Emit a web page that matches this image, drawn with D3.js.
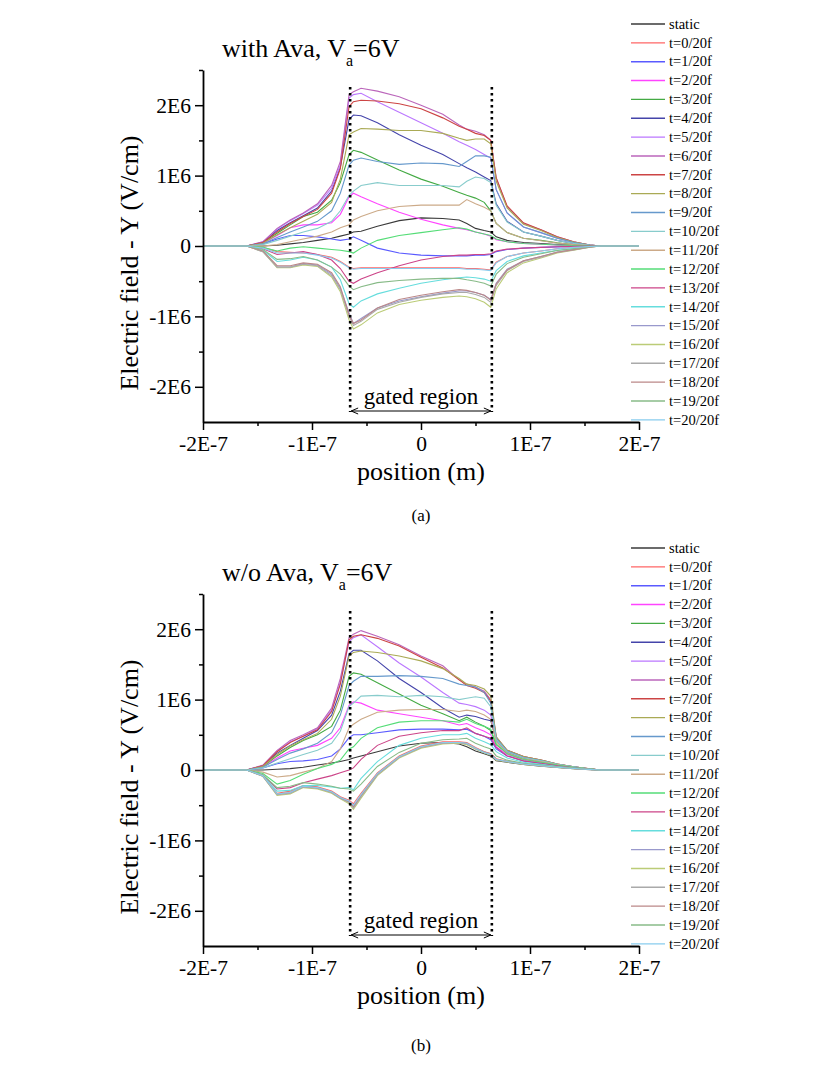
<!DOCTYPE html>
<html lang="en">
<head>
<meta charset="utf-8">
<title>electric field Y</title>
<script type="text/javascript" src="https://cdn.jsdelivr.net/npm/d3@7"></script>
<style>
  body{margin:0;background:#fff;}
  svg{display:block;}
  svg text{font-family:"Liberation Serif","DejaVu Serif",serif;}
</style>
</head>
<body>
<div id="chart"></div>
<script type="text/javascript">

// positions in nm (axis shows them in metres)
var positionsNm = [-200,-160,-145,-132,-120,-108,-95,-82,-74,-66,-62,-55,-40,-20,0,20,35,42,50,58,64,69,79,94,110,125,140,155,165,200]

var seriesNames = ["static","t=0/20f","t=1/20f","t=2/20f","t=3/20f","t=4/20f","t=5/20f","t=6/20f","t=7/20f","t=8/20f","t=9/20f","t=10/20f",
  "t=11/20f","t=12/20f","t=13/20f","t=14/20f","t=15/20f","t=16/20f","t=17/20f","t=18/20f","t=19/20f","t=20/20f"]
var seriesColors = ["#3a3a3a","#ff6666","#5a5aff","#ff44ff","#44aa44","#4444aa","#bb77ff","#bb66bb","#cc4444","#aaaa55","#6699cc","#88cccc",
  "#ccaa88","#55dd77","#cc4488","#66dddd","#9999cc","#bbcc77","#aaaaaa","#bb8888","#88bb88","#88ccee"]

var xTicks = [-200,-100,0,100,200]
var xTickLabels = ["-2E-7","-1E-7","0","1E-7","2E-7"]
var xMinor = [-150,-50,50,150]
var yTicks = [-2,-1,0,1,2]
var yTickLabels = ["-2E6","-1E6","0","1E6","2E6"]
var yMinor = [-1.5,-0.5,0.5,1.5,2.5]
var gateEdges = [-65,65]

// (a) with Ava, field in 1E6 V/cm
var a_static = [0,0,0,0.01,0.03,0.05,0.08,0.11,0.14,0.17,0.2,0.21,0.28,0.36,0.4,0.39,0.37,0.32,0.25,0.22,0.2,0.13,0.08,0.05,0.035,0.02,0.01,0.003,0,0]
var a_t0  = [0,0,-0.02,-0.08,-0.09,-0.1,-0.12,-0.16,-0.22,-0.3,-0.32,-0.31,-0.31,-0.31,-0.31,-0.31,-0.31,-0.32,-0.32,-0.33,-0.34,-0.23,-0.15,-0.1,-0.07,-0.04,-0.02,-0.007,0,0]
var a_t1  = [0,0,0.03,0.1,0.15,0.15,0.13,0.1,0.08,0.1,0.13,0.08,-0.03,-0.1,-0.13,-0.14,-0.14,-0.14,-0.13,-0.13,-0.12,-0.08,-0.05,-0.03,-0.02,-0.012,-0.006,-0.002,0,0]
var a_t2  = [0,0,0.04,0.15,0.26,0.3,0.3,0.33,0.45,0.7,0.75,0.7,0.6,0.48,0.38,0.3,0.25,0.23,0.2,0.17,0.14,0.09,0.06,0.035,0.025,0.015,0.007,0.002,0,0]
var a_t3  = [0,0,0.05,0.18,0.3,0.42,0.48,0.65,0.9,1.3,1.36,1.33,1.22,1.08,0.95,0.85,0.76,0.72,0.68,0.62,0.5,0.32,0.19,0.11,0.08,0.045,0.02,0.005,0,0]
var a_t4  = [0,0,0.05,0.22,0.33,0.43,0.54,0.78,1.12,1.8,1.86,1.85,1.75,1.58,1.43,1.3,1.17,1.11,1.05,0.98,0.93,0.6,0.35,0.2,0.14,0.08,0.037,0.01,0,0]
var a_t5  = [0,0,0.06,0.24,0.36,0.46,0.58,0.82,1.15,2.1,2.15,2.17,2.05,1.9,1.75,1.6,1.48,1.43,1.37,1.3,1.25,0.8,0.47,0.27,0.19,0.11,0.05,0.013,0,0]
var a_t6  = [0,0,0.06,0.25,0.37,0.47,0.6,0.86,1.2,2.15,2.19,2.24,2.2,2.12,2.0,1.87,1.72,1.66,1.63,1.58,1.5,0.96,0.56,0.32,0.23,0.13,0.06,0.015,0,0]
var a_t7  = [0,0,0.05,0.2,0.32,0.42,0.52,0.75,1.1,1.98,2.05,2.07,2.06,2.02,1.95,1.82,1.7,1.66,1.6,1.57,1.5,0.97,0.57,0.33,0.23,0.13,0.06,0.015,0,0]
var a_t8  = [0,0,0.04,0.16,0.26,0.35,0.45,0.62,0.95,1.58,1.62,1.67,1.66,1.64,1.64,1.6,1.53,1.5,1.52,1.52,1.45,0.92,0.54,0.31,0.22,0.12,0.058,0.014,0,0]
var a_t9  = [0,0,0.03,0.12,0.2,0.27,0.35,0.5,0.75,1.15,1.22,1.25,1.2,1.16,1.18,1.17,1.13,1.2,1.28,1.28,1.26,0.8,0.47,0.27,0.19,0.11,0.05,0.012,0,0]
var a_t10 = [0,0,0.02,0.08,0.14,0.2,0.25,0.35,0.5,0.72,0.78,0.86,0.9,0.86,0.86,0.86,0.84,0.92,0.98,0.96,0.9,0.58,0.34,0.2,0.14,0.08,0.037,0.009,0,0]
var a_t11 = [0,0,0,0.02,0.06,0.1,0.14,0.2,0.26,0.3,0.37,0.42,0.5,0.56,0.58,0.58,0.58,0.66,0.6,0.55,0.5,0.32,0.19,0.11,0.075,0.043,0.02,0.005,0,0]
var a_t12 = [0,0,-0.02,-0.07,-0.03,-0.01,-0.03,-0.05,-0.06,-0.08,-0.1,-0.03,0.08,0.15,0.19,0.23,0.26,0.24,0.2,0.17,0.15,0.1,0.06,0.035,0.025,0.014,0.007,0.002,0,0]
var a_t13 = [0,0,-0.04,-0.12,-0.1,-0.08,-0.12,-0.2,-0.32,-0.5,-0.53,-0.47,-0.38,-0.28,-0.2,-0.15,-0.13,-0.13,-0.12,-0.12,-0.11,-0.07,-0.045,-0.03,-0.02,-0.011,-0.005,-0.001,0,0]
var a_t14 = [0,0,-0.06,-0.22,-0.2,-0.16,-0.2,-0.3,-0.48,-0.82,-0.87,-0.78,-0.68,-0.6,-0.53,-0.48,-0.45,-0.44,-0.45,-0.47,-0.5,-0.35,-0.22,-0.14,-0.1,-0.06,-0.035,-0.01,0,0]
var a_t15 = [0,0,-0.08,-0.3,-0.3,-0.25,-0.27,-0.4,-0.6,-0.95,-1.1,-1.03,-0.88,-0.78,-0.72,-0.67,-0.64,-0.64,-0.66,-0.7,-0.76,-0.53,-0.33,-0.21,-0.15,-0.085,-0.05,-0.015,0,0]
var a_t16 = [0,0,-0.08,-0.31,-0.31,-0.27,-0.29,-0.44,-0.65,-1.05,-1.18,-1.12,-0.95,-0.83,-0.77,-0.73,-0.71,-0.72,-0.75,-0.8,-0.87,-0.61,-0.38,-0.24,-0.17,-0.1,-0.06,-0.018,0,0]
var a_t17 = [0,0,-0.08,-0.3,-0.3,-0.26,-0.28,-0.42,-0.62,-1.0,-1.13,-1.07,-0.9,-0.8,-0.73,-0.68,-0.66,-0.66,-0.69,-0.73,-0.8,-0.56,-0.35,-0.22,-0.16,-0.09,-0.055,-0.016,0,0]
var a_t18 = [0,0,-0.07,-0.28,-0.28,-0.24,-0.26,-0.38,-0.58,-0.98,-1.1,-1.05,-0.88,-0.76,-0.7,-0.65,-0.62,-0.63,-0.66,-0.7,-0.77,-0.54,-0.34,-0.21,-0.15,-0.088,-0.052,-0.015,0,0]
var a_t19 = [0,0,-0.05,-0.19,-0.18,-0.15,-0.2,-0.3,-0.4,-0.57,-0.62,-0.58,-0.52,-0.49,-0.47,-0.46,-0.46,-0.48,-0.5,-0.53,-0.57,-0.4,-0.25,-0.16,-0.11,-0.065,-0.038,-0.011,0,0]
var a_t20 = [0,0,-0.03,-0.1,-0.1,-0.1,-0.13,-0.17,-0.23,-0.31,-0.33,-0.32,-0.32,-0.32,-0.32,-0.32,-0.32,-0.33,-0.33,-0.34,-0.35,-0.24,-0.15,-0.1,-0.07,-0.04,-0.02,-0.007,0,0]

// (b) w/o Ava
var b_static = [0,0,0,0.01,0.02,0.04,0.07,0.1,0.12,0.15,0.17,0.2,0.26,0.34,0.38,0.39,0.37,0.33,0.27,0.23,0.2,0.13,0.11,0.08,0.055,0.035,0.02,0.006,0,0]
var b_t0  = [0,0,-0.08,-0.33,-0.3,-0.22,-0.24,-0.3,-0.38,-0.43,-0.48,-0.33,-0.04,0.2,0.34,0.4,0.4,0.39,0.32,0.26,0.23,0.16,0.125,0.088,0.062,0.04,0.022,0.007,0,0]
var b_t1  = [0,0,0.03,0.09,0.12,0.13,0.15,0.2,0.3,0.46,0.5,0.5,0.53,0.57,0.58,0.58,0.57,0.58,0.52,0.48,0.43,0.3,0.2,0.13,0.09,0.06,0.032,0.01,0,0]
var b_t2  = [0,0,0.04,0.17,0.27,0.31,0.35,0.45,0.6,0.92,0.97,0.95,0.85,0.8,0.75,0.7,0.64,0.66,0.6,0.55,0.5,0.33,0.22,0.15,0.11,0.07,0.038,0.012,0,0]
var b_t3  = [0,0,0.05,0.2,0.32,0.42,0.5,0.62,0.85,1.33,1.38,1.36,1.24,1.08,0.92,0.8,0.7,0.75,0.68,0.62,0.56,0.36,0.24,0.16,0.12,0.075,0.04,0.013,0,0]
var b_t4  = [0,0,0.06,0.24,0.35,0.45,0.56,0.78,1.12,1.65,1.7,1.7,1.55,1.3,1.1,0.88,0.75,0.78,0.76,0.72,0.7,0.42,0.26,0.17,0.125,0.078,0.042,0.014,0,0]
var b_t5  = [0,0,0.06,0.27,0.4,0.48,0.59,0.85,1.25,1.82,1.88,1.92,1.75,1.52,1.32,1.1,0.95,0.93,0.9,0.85,0.78,0.45,0.27,0.18,0.13,0.08,0.044,0.015,0,0]
var b_t6  = [0,0,0.07,0.28,0.42,0.5,0.6,0.88,1.3,1.88,1.93,1.98,1.9,1.78,1.62,1.48,1.28,1.22,1.18,1.12,1.0,0.47,0.28,0.19,0.14,0.085,0.047,0.016,0,0]
var b_t7  = [0,0,0.06,0.26,0.39,0.48,0.57,0.83,1.22,1.85,1.9,1.92,1.87,1.76,1.6,1.45,1.28,1.2,1.16,1.1,0.98,0.46,0.28,0.19,0.14,0.085,0.047,0.016,0,0]
var b_t8  = [0,0,0.05,0.22,0.34,0.43,0.52,0.72,1.05,1.62,1.67,1.69,1.67,1.62,1.55,1.44,1.3,1.22,1.2,1.15,1.05,0.47,0.28,0.19,0.14,0.085,0.047,0.016,0,0]
var b_t9  = [0,0,0.04,0.15,0.24,0.3,0.38,0.53,0.78,1.2,1.26,1.33,1.33,1.34,1.33,1.3,1.22,1.2,1.18,1.1,0.95,0.45,0.27,0.18,0.135,0.082,0.045,0.015,0,0]
var b_t10 = [0,0,0.03,0.1,0.16,0.22,0.28,0.38,0.55,0.9,0.95,1.05,1.06,1.04,1.06,1.04,1.0,1.02,1.04,1.02,0.9,0.43,0.26,0.175,0.13,0.08,0.044,0.015,0,0]
var b_t11 = [0,0,-0.03,-0.1,-0.08,-0.03,0.02,0.12,0.3,0.6,0.65,0.72,0.82,0.85,0.86,0.86,0.83,0.85,0.83,0.78,0.72,0.4,0.24,0.16,0.12,0.075,0.04,0.013,0,0]
var b_t12 = [0,0,-0.05,-0.2,-0.15,-0.06,0.02,0.08,0.14,0.3,0.33,0.45,0.6,0.68,0.7,0.7,0.68,0.72,0.66,0.62,0.58,0.37,0.23,0.15,0.11,0.07,0.037,0.012,0,0]
var b_t13 = [0,0,-0.07,-0.27,-0.25,-0.18,-0.13,-0.08,-0.04,0,0.03,0.15,0.35,0.48,0.53,0.56,0.56,0.6,0.52,0.48,0.45,0.32,0.2,0.13,0.095,0.06,0.032,0.01,0,0]
var b_t14 = [0,0,-0.08,-0.3,-0.29,-0.22,-0.22,-0.24,-0.26,-0.25,-0.28,-0.12,0.12,0.35,0.45,0.5,0.5,0.52,0.45,0.4,0.36,0.26,0.17,0.11,0.08,0.05,0.027,0.009,0,0]
var b_t15 = [0,0,-0.09,-0.35,-0.33,-0.24,-0.26,-0.32,-0.4,-0.45,-0.52,-0.37,-0.06,0.18,0.32,0.38,0.38,0.37,0.3,0.25,0.22,0.15,0.12,0.085,0.06,0.038,0.021,0.007,0,0]
var b_t16 = [0,0,-0.09,-0.36,-0.34,-0.25,-0.27,-0.33,-0.41,-0.48,-0.56,-0.4,-0.08,0.17,0.31,0.37,0.38,0.36,0.3,0.24,0.21,0.14,0.115,0.08,0.058,0.036,0.02,0.007,0,0]
var b_t17 = [0,0,-0.09,-0.35,-0.33,-0.24,-0.26,-0.32,-0.4,-0.46,-0.54,-0.38,-0.07,0.18,0.32,0.38,0.39,0.37,0.31,0.25,0.22,0.15,0.12,0.085,0.06,0.038,0.021,0.007,0,0]
var b_t18 = [0,0,-0.08,-0.34,-0.32,-0.23,-0.25,-0.31,-0.39,-0.45,-0.52,-0.36,-0.05,0.19,0.33,0.39,0.39,0.38,0.31,0.26,0.23,0.15,0.12,0.086,0.06,0.038,0.021,0.007,0,0]
var b_t19 = [0,0,-0.07,-0.25,-0.23,-0.18,-0.2,-0.23,-0.26,-0.27,-0.3,-0.2,0.05,0.25,0.38,0.43,0.44,0.45,0.38,0.33,0.3,0.2,0.14,0.095,0.07,0.045,0.024,0.008,0,0]
var b_t20 = [0,0,-0.08,-0.34,-0.32,-0.23,-0.25,-0.31,-0.39,-0.44,-0.5,-0.35,-0.05,0.19,0.33,0.39,0.39,0.38,0.31,0.25,0.22,0.15,0.12,0.085,0.06,0.038,0.021,0.007,0,0]

var withAva = [a_static,a_t0,a_t1,a_t2,a_t3,a_t4,a_t5,a_t6,a_t7,a_t8,a_t9,a_t10,a_t11,a_t12,a_t13,a_t14,a_t15,a_t16,a_t17,a_t18,a_t19,a_t20]
var withoutAva = [b_static,b_t0,b_t1,b_t2,b_t3,b_t4,b_t5,b_t6,b_t7,b_t8,b_t9,b_t10,b_t11,b_t12,b_t13,b_t14,b_t15,b_t16,b_t17,b_t18,b_t19,b_t20]

var w = 830, h = 1074
var svg = d3.select("#chart").append("svg").attr("width",w).attr("height",h)

var defs = svg.append("defs")
defs.append("marker").attr("id","arrowEnd").attr("viewBox","-8 -4 9 8")
  .attr("refX",0).attr("refY",0).attr("markerWidth",9).attr("markerHeight",8)
  .attr("markerUnits","userSpaceOnUse").attr("orient","auto")
  .append("path").attr("d","M-7,-3 L0,0 L-7,3").attr("fill","none").attr("stroke","#000").attr("stroke-width",1)
defs.append("marker").attr("id","arrowStart").attr("viewBox","-1 -4 9 8")
  .attr("refX",0).attr("refY",0).attr("markerWidth",9).attr("markerHeight",8)
  .attr("markerUnits","userSpaceOnUse").attr("orient","auto")
  .append("path").attr("d","M7,-3 L0,0 L7,3").attr("fill","none").attr("stroke","#000").attr("stroke-width",1)

drawPanel(70, withAva, "with Ava, V", "(a)", 521)
drawPanel(594, withoutAva, "w/o Ava, V", "(b)", 1051)

function drawPanel(top, curves, title, caption, captionY){
  var left = 203, right = 639, bottom = top + 352
  var x = d3.scaleLinear().domain([-200,200]).range([left,right])
  var y = d3.scaleLinear().domain([-2.5,2.5]).range([bottom,top])
  var g = svg.append("g")

  var line = d3.line()
    .x(function(d,i){ return x(positionsNm[i]) })
    .y(function(d){ return y(d) })

  g.selectAll(".curve")
    .data(curves)
    .enter()
    .append("path")
    .attr("class","curve")
    .attr("d",line)
    .attr("fill","none")
    .attr("stroke",function(d,i){ return seriesColors[i] })
    .attr("stroke-width",1.1)

  // gated region marks
  g.selectAll(".gate")
    .data(gateEdges)
    .enter()
    .append("line")
    .attr("x1",function(d){ return x(d) }).attr("x2",function(d){ return x(d) })
    .attr("y1",top+17).attr("y2",bottom-10)
    .attr("stroke","#000").attr("stroke-width",2.6)
    .attr("stroke-dasharray","2.6,3.4")

  g.append("line")
    .attr("x1",x(gateEdges[0])+1).attr("x2",x(gateEdges[1])-1)
    .attr("y1",bottom-11).attr("y2",bottom-11)
    .attr("stroke","#000").attr("stroke-width",1)
    .attr("marker-start","url(#arrowStart)").attr("marker-end","url(#arrowEnd)")

  g.append("text")
    .attr("x",x(0)).attr("y",bottom-18)
    .attr("text-anchor","middle").attr("font-size",23)
    .text("gated region")

  // axes
  var xAxis = g.append("g").attr("transform","translate(0,"+bottom+")")
    .call(d3.axisBottom(x).tickValues(xTicks).tickSize(8).tickSizeOuter(0).tickPadding(6)
      .tickFormat(function(d,i){ return xTickLabels[i] }))
  xAxis.append("g")
    .call(d3.axisBottom(x).tickValues(xMinor).tickSize(4).tickSizeOuter(0).tickFormat(""))
    .select(".domain").remove()
  var yAxis = g.append("g").attr("transform","translate("+left+",0)")
    .call(d3.axisLeft(y).tickValues(yTicks).tickSize(8).tickSizeOuter(0).tickPadding(4)
      .tickFormat(function(d,i){ return yTickLabels[i] }))
  yAxis.append("g")
    .call(d3.axisLeft(y).tickValues(yMinor).tickSize(4).tickSizeOuter(0).tickFormat(""))
    .select(".domain").remove()

  g.selectAll(".domain").attr("stroke","#000").attr("stroke-width",1.8)
  g.selectAll(".tick line").attr("stroke","#000").attr("stroke-width",1.5)
  g.selectAll(".tick text").style("font-family","'Liberation Serif','DejaVu Serif',serif").attr("font-size",21.5).attr("fill","#000")

  // titles
  var t = g.append("text").attr("x",222).attr("y",top-13).attr("font-size",26)
  t.append("tspan").text(title)
  t.append("tspan").attr("font-size",16).attr("dy",9).text("a")
  t.append("tspan").attr("dy",-9).text("=6V")

  g.append("text")
    .attr("transform","translate(138,"+(top+193)+") rotate(-90)")
    .attr("text-anchor","middle").attr("font-size",26)
    .text("Electric field - Y (V/cm)")

  g.append("text")
    .attr("x",x(0)).attr("y",bottom+58)
    .attr("text-anchor","middle").attr("font-size",26)
    .text("position (m)")

  svg.append("text")
    .attr("x",x(0)).attr("y",captionY)
    .attr("text-anchor","middle").attr("font-size",17)
    .text(caption)

  // legend
  var legend = g.selectAll(".legend")
    .data(seriesNames)
    .enter()
    .append("g")
    .attr("class","legend")
    .attr("transform",function(d,i){ return "translate(631,"+(top-46+i*18.85)+")" })
  legend.append("line")
    .attr("x1",0).attr("x2",34).attr("y1",0).attr("y2",0)
    .attr("stroke",function(d,i){ return seriesColors[i] })
    .attr("stroke-width",1.4)
  legend.append("text")
    .attr("x",38).attr("y",0).attr("dy","0.33em")
    .attr("font-size",14.5)
    .text(function(d){ return d })
}

</script>
</body>
</html>
